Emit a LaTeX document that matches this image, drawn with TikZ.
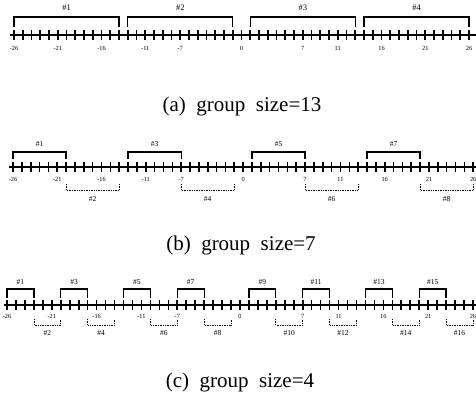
\documentclass[tikz,border=0pt]{standalone}
\usepackage{fontspec}
\setmainfont{Liberation Serif}
\usepackage{tikz}

\begin{document}
\begin{tikzpicture}[x=1pt, y=-1pt,
  axisline/.style={line width=1.3pt},
  tickmark/.style={line width=1.6pt},
  grp/.style={line width=1.3pt},
  subgrp/.style={line width=0.7pt, densely dotted},
  num/.style={font=\fontsize{6.3}{6.3}\selectfont, inner sep=0pt},
  lab/.style={font=\fontsize{7.5}{7.5}\selectfont, inner sep=0pt},
  captext/.style={font=\fontsize{21}{21}\selectfont, inner sep=0pt, anchor=base}]
\useasboundingbox (0,0) rectangle (476,397);

% (a) group size=13 %
\begin{scope}[xshift=241.5pt, x=8.75pt]
\draw[axisline] (-26.5,35) -- (27,35);
\foreach \v in {-26,...,26} \draw[tickmark] (\v,30) -- (\v,40);
\foreach \v in {-26,-21,-16,-11,-7,0,7,11,16,21,26}
  \node[num] (na\v) at (\v,48) {\v};
\foreach \s/\e/\n in {-26/-14/1,-13/-1/2,1/13/3,14/26/4} {
  \draw[grp] (\s,27) -- (\s,17) -- (\e,17) -- (\e,27);
  \node[lab, font=\fontsize{8.5}{8.5}\selectfont] (ga\n) at ({(\s+\e)/2},8) {\#\n};
}
\end{scope}
\node[captext] (capa) at (242,111) {(a)\enspace group\enspace size=13};

% (b) group size=7 %
\begin{scope}[xshift=243.1pt, x=8.85pt]
\draw[axisline] (-26.4,167) -- (27,167);
\foreach \v in {-26,...,26} \draw[tickmark] (\v,162) -- (\v,172);
\foreach \v in {-26,-21,-16,-11,-7,0,7,11,16,21,26}
  \node[num] (nb\v) at (\v,179) {\v};
\foreach \s/\e/\n in {-26/-20/1,-13/-7/3,1/7/5,14/20/7} {
  \draw[grp] (\s,159) -- (\s,152) -- (\e,152) -- (\e,159);
  \node[lab] (gb\n) at ({(\s+\e)/2},144) {\#\n};
}
\foreach \s/\e/\n in {-20/-14/2,-7/-1/4,7/13/6,20/26/8} {
  \draw[subgrp] (\s,184) -- (\s,190) -- (\e,190) -- (\e,184);
  \node[lab] (gb\n) at ({(\s+\e)/2},199) {\#\n};
}
\end{scope}
\node[captext] (capb) at (241,250) {(b)\enspace group\enspace size=7};

% (c) group size=4 %
\begin{scope}[xshift=240pt, x=8.96pt]
\draw[axisline] (-26.3,305) -- (27,305);
\foreach \v in {-26,...,26} \draw[tickmark] (\v,300) -- (\v,310);
\foreach \v in {-26,-21,-16,-11,-7,0,7,11,16,21,26}
  \node[num] (nc\v) at (\v,316) {\v};
\foreach \s/\e/\n in {-26/-23/1,-20/-17/3,-13/-10/5,-7/-4/7,1/4/9,7/10/11,14/17/13,20/23/15} {
  \draw[grp] (\s,298) -- (\s,289) -- (\e,289) -- (\e,298);
  \node[lab] (gc\n) at ({(\s+\e)/2},282) {\#\n};
}
\foreach \s/\e/\n in {-23/-20/2,-17/-14/4,-10/-7/6,-4/-1/8,4/7/10,10/13/12,17/20/14,23/26/16} {
  \draw[subgrp] (\s,319) -- (\s,325) -- (\e,325) -- (\e,319);
  \node[lab] (gc\n) at ({(\s+\e)/2},333) {\#\n};
}
\end{scope}
\node[captext] (capc) at (240,387) {(c)\enspace group\enspace size=4};
\end{tikzpicture}
\end{document}
